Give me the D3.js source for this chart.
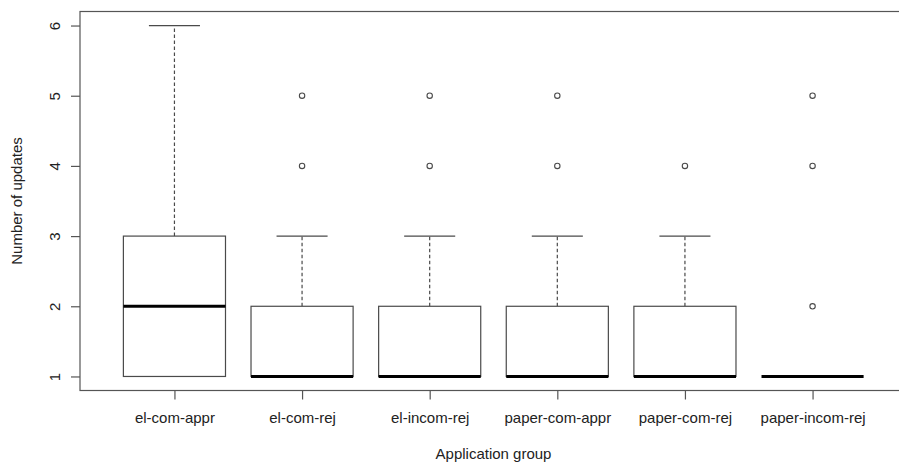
<!DOCTYPE html>
<html>
<head>
<meta charset="utf-8">
<script src="https://cdn.jsdelivr.net/npm/d3@7"></script>
<style>
  html, body { margin: 0; padding: 0; background: #fff; }
  svg { display: block; }
  text { font-family: "Liberation Sans", Arial, sans-serif; fill: #222; }
</style>
</head>
<body>
<svg id="chart" width="899" height="463"></svg>
<script>
// Box-plot summaries per application group
const groups = ["el-com-appr", "el-com-rej", "el-incom-rej", "paper-com-appr", "paper-com-rej", "paper-incom-rej"];
const whiskerLow  = [1, 1, 1, 1, 1, 1];
const q1          = [1, 1, 1, 1, 1, 1];
const median      = [2, 1, 1, 1, 1, 1];
const q3          = [3, 2, 2, 2, 2, 1];
const whiskerHigh = [6, 3, 3, 3, 3, 1];
const outliers    = [[], [4, 5], [4, 5], [4, 5], [4], [2, 4, 5]];
const yTicks = [1, 2, 3, 4, 5, 6];

const W = 899, H = 463;
const frame = { left: 80, right: 907, top: 11.5, bottom: 390.5 };
const lineColor = "#4a4a4a";

const svg = d3.select("#chart");

// group index 1..n on x, 4% padding like R's default axis extension
const x = d3.scaleLinear().domain([0.26, 6.74]).range([frame.left, frame.right]);
const y = d3.scaleLinear().domain([0.8, 6.2]).range([frame.bottom, frame.top]);

const boxHalf = 0.4;   // half box width in group units
const capHalf = 0.2;   // half whisker-cap width

const stats = groups.map((g, i) => ({
  name: g, i: i + 1,
  lo: whiskerLow[i], q1: q1[i], med: median[i], q3: q3[i], hi: whiskerHigh[i],
  out: outliers[i]
}));

const plot = svg.append("g");

const box = plot.selectAll("g.box").data(stats).join("g").attr("class", "box");

// dashed whiskers
box.append("line")
  .attr("x1", d => x(d.i)).attr("x2", d => x(d.i))
  .attr("y1", d => y(d.q3)).attr("y2", d => y(d.hi))
  .attr("stroke", lineColor).attr("stroke-width", 1.2)
  .attr("stroke-dasharray", "3.5,2.5");
box.append("line")
  .attr("x1", d => x(d.i)).attr("x2", d => x(d.i))
  .attr("y1", d => y(d.q1)).attr("y2", d => y(d.lo))
  .attr("stroke", lineColor).attr("stroke-width", 1.2)
  .attr("stroke-dasharray", "3.5,2.5");

// whisker caps
[["hi"], ["lo"]].forEach(([k]) => {
  box.append("line")
    .attr("x1", d => x(d.i - capHalf)).attr("x2", d => x(d.i + capHalf))
    .attr("y1", d => y(d[k])).attr("y2", d => y(d[k]))
    .attr("stroke", lineColor).attr("stroke-width", 1.2);
});

// boxes
box.append("rect")
  .attr("x", d => x(d.i - boxHalf))
  .attr("width", d => x(d.i + boxHalf) - x(d.i - boxHalf))
  .attr("y", d => y(d.q3))
  .attr("height", d => y(d.q1) - y(d.q3))
  .attr("fill", "#fff")
  .attr("stroke", lineColor).attr("stroke-width", 1.2);

// medians
box.append("line")
  .attr("x1", d => x(d.i - boxHalf)).attr("x2", d => x(d.i + boxHalf))
  .attr("y1", d => y(d.med)).attr("y2", d => y(d.med))
  .attr("stroke", "#000").attr("stroke-width", 3);

// outliers
box.selectAll("circle")
  .data(d => d.out.map(v => ({ i: d.i, v })))
  .join("circle")
  .attr("cx", d => x(d.i)).attr("cy", d => y(d.v))
  .attr("r", 2.7)
  .attr("fill", "none")
  .attr("stroke", lineColor).attr("stroke-width", 1.1);

// plot frame
svg.append("rect")
  .attr("x", frame.left).attr("y", frame.top)
  .attr("width", frame.right - frame.left).attr("height", frame.bottom - frame.top)
  .attr("fill", "none").attr("stroke", "#555").attr("stroke-width", 1.2);

// y axis
const yAxis = svg.append("g")
  .attr("transform", `translate(${frame.left},0)`)
  .call(d3.axisLeft(y).tickValues(yTicks).tickFormat(d3.format("d")).tickSize(9).tickSizeOuter(0));
yAxis.select(".domain").remove();
yAxis.selectAll(".tick line").attr("stroke", "#555").attr("stroke-width", 1.2);
yAxis.selectAll(".tick text")
  .attr("x", 0).attr("dy", null).attr("y", 0)
  .attr("text-anchor", "middle")
  .attr("transform", "translate(-20,0) rotate(-90)")
  .style("font-size", "15px").style("font-family", "Liberation Sans, Arial, sans-serif")
  .attr("fill", "#222");

// x axis
const xAxis = svg.append("g")
  .attr("transform", `translate(0,${frame.bottom})`)
  .call(d3.axisBottom(x).tickValues(stats.map(d => d.i))
    .tickFormat(v => groups[v - 1]).tickSize(9).tickSizeOuter(0));
xAxis.select(".domain").remove();
xAxis.selectAll(".tick line").attr("stroke", "#555").attr("stroke-width", 1.2);
xAxis.selectAll(".tick text")
  .attr("y", 32.5).attr("dy", null)
  .style("font-size", "15px").style("font-family", "Liberation Sans, Arial, sans-serif")
  .attr("fill", "#222");

// axis titles
svg.append("text")
  .attr("x", (frame.left + frame.right) / 2).attr("y", 459)
  .attr("text-anchor", "middle")
  .style("font-size", "15px")
  .text("Application group");

svg.append("text")
  .attr("transform", `translate(22,${(frame.top + frame.bottom) / 2}) rotate(-90)`)
  .attr("text-anchor", "middle")
  .style("font-size", "15px")
  .text("Number of updates");
</script>
</body>
</html>
